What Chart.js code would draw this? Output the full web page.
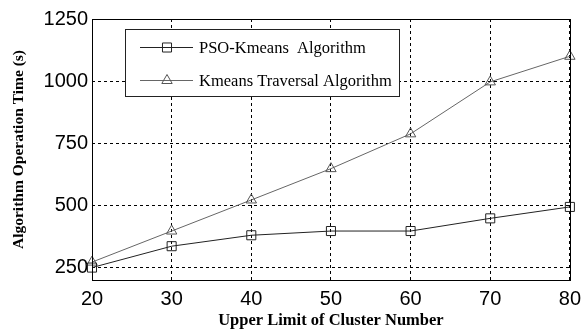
<!DOCTYPE html>
<html>
<head>
<meta charset="utf-8">
<script src="https://cdn.jsdelivr.net/npm/chart.js@4/dist/chart.umd.min.js"></script>
<style>
  html, body { margin: 0; padding: 0; background: #fff; }
  #wrap { width: 588px; height: 334px; }
</style>
</head>
<body>
<div id="wrap"><canvas id="chart" width="588" height="334"></canvas></div>
<script>
const clusterLimits = [20, 30, 40, 50, 60, 70, 80];
const psoKmeans = [250, 336, 380, 397, 397, 448, 494];
const kmeansTraversal = [272, 397, 522, 648, 788, 997, 1100];
const yTicks = [250, 500, 750, 1000, 1250];
const seriesNames = ["PSO-Kmeans  Algorithm", "Kmeans Traversal Algorithm"];

// frame round the plot area plus the boxed legend inside it
const framePlugin = {
  id: "frame",
  afterDraw(chart) {
    const ctx = chart.ctx;
    const a = chart.chartArea;
    ctx.save();
    ctx.strokeStyle = "#000";
    ctx.lineWidth = 1;
    ctx.setLineDash([]);
    ctx.strokeRect(Math.round(a.left) + 0.5, Math.round(a.top) + 0.5,
      Math.round(a.right - a.left), Math.round(a.bottom - a.top));

    // legend box
    const bx = 125.5, by = 29.5, bw = 274, bh = 67;
    ctx.fillStyle = "#fff";
    ctx.fillRect(bx, by, bw, bh);
    ctx.strokeStyle = "#222";
    ctx.strokeRect(bx, by, bw, bh);
    const rows = [47, 80];
    chart.data.datasets.forEach((ds, i) => {
      const y = rows[i] + 0.5;
      ctx.strokeStyle = ds.borderColor;
      ctx.lineWidth = 1;
      ctx.beginPath();
      ctx.moveTo(140, y);
      ctx.lineTo(193, y);
      ctx.stroke();
      ctx.strokeStyle = ds.pointBorderColor;
      ctx.fillStyle = "rgba(0,0,0,0)";
      Chart.helpers.drawPoint(ctx, {
        pointStyle: ds.pointStyle, radius: ds.pointRadius, borderWidth: 1
      }, 167, y);
      ctx.fillStyle = "#000";
      ctx.font = "16.5px 'Liberation Serif', 'Times New Roman', serif";
      ctx.textBaseline = "middle";
      ctx.textAlign = "left";
      ctx.fillText(ds.label, 199, y + 1);
    });
    ctx.restore();
  }
};

new Chart(document.getElementById("chart"), {
  type: "line",
  data: {
    datasets: [
      {
        label: seriesNames[0],
        data: clusterLimits.map((x, i) => ({ x: x, y: psoKmeans[i] })),
        borderColor: "#222",
        borderWidth: 1,
        pointStyle: "rect",
        pointRadius: 6.4,
        pointBorderColor: "#222",
        pointBackgroundColor: "rgba(0,0,0,0)",
        pointBorderWidth: 1,
        tension: 0
      },
      {
        label: seriesNames[1],
        data: clusterLimits.map((x, i) => ({ x: x, y: kmeansTraversal[i] })),
        borderColor: "#666",
        borderWidth: 1,
        pointStyle: "triangle",
        pointRadius: 6,
        pointBorderColor: "#555",
        pointBackgroundColor: "rgba(0,0,0,0)",
        pointBorderWidth: 1,
        tension: 0
      }
    ]
  },
  options: {
    responsive: false,
    animation: false,
    clip: false,
    layout: { padding: { left: 0, right: 11, top: 19, bottom: 0 } },
    plugins: {
      legend: { display: false },
      tooltip: { enabled: false }
    },
    scales: {
      x: {
        type: "linear",
        min: 20,
        max: 80,
        afterBuildTicks: s => { s.ticks = clusterLimits.map(v => ({ value: v })); },
        afterFit: s => { s.height = 54; },
        border: { display: false, dash: [3, 3] },
        grid: { color: "#000", lineWidth: 1, drawTicks: false },
        ticks: {
          color: "#000",
          padding: 7,
          maxRotation: 0,
          callback: v => String(v),
          font: { family: "'Liberation Sans', Arial, sans-serif", size: 20 }
        },
        title: {
          display: true,
          text: "Upper Limit of Cluster Number",
          color: "#000",
          padding: { top: 0, bottom: 3 },
          font: { family: "'Liberation Serif', 'Times New Roman', serif", size: 16.5, weight: "bold" }
        }
      },
      y: {
        min: 200,
        max: 1250,
        afterBuildTicks: s => { s.ticks = yTicks.map(v => ({ value: v })); },
        afterFit: s => { s.width = 92; },
        border: { display: false, dash: [3, 3] },
        grid: { color: "#000", lineWidth: 1, drawTicks: false },
        ticks: {
          color: "#000",
          padding: 4,
          callback: v => String(v),
          font: { family: "'Liberation Sans', Arial, sans-serif", size: 20 }
        },
        title: {
          display: true,
          text: "Algorithm Operation Time (s)",
          color: "#000",
          padding: { top: 10, bottom: 0 },
          font: { family: "'Liberation Serif', 'Times New Roman', serif", size: 15.5, weight: "bold" }
        }
      }
    }
  },
  plugins: [framePlugin]
});
</script>
</body>
</html>
